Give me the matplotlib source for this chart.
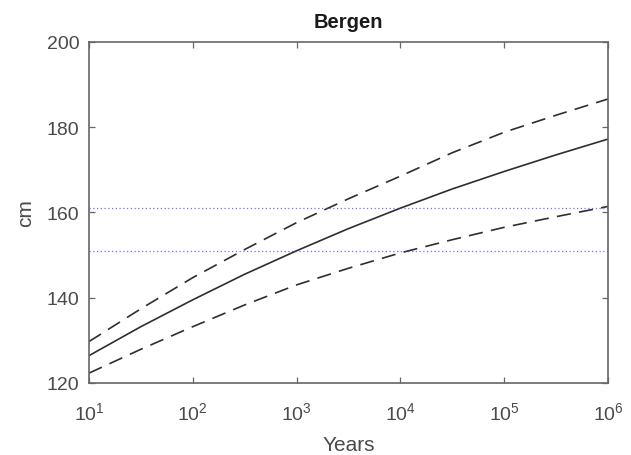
import matplotlib
matplotlib.use("Agg")
import matplotlib.pyplot as plt
import numpy as np

plt.rcParams['font.family'] = ['Liberation Sans', 'DejaVu Sans']
plt.rcParams['mathtext.fontset'] = 'custom'
plt.rcParams['mathtext.rm'] = 'Liberation Sans'

years = [1e1, 10**1.5, 1e2, 10**2.5, 1e3, 10**3.5, 1e4, 10**4.5, 1e5, 10**5.5, 1e6]
central = [126.4, 133.2, 139.5, 145.5, 151.0, 156.2, 161.0, 165.5, 169.6, 173.5, 177.2]
upper = [129.7, 137.4, 144.7, 151.3, 157.6, 163.2, 168.5, 174.0, 178.8, 182.8, 186.6]
lower = [122.3, 127.9, 133.2, 138.3, 143.0, 146.9, 150.5, 153.6, 156.5, 159.0, 161.4]
ref_levels = [151, 161]
xtick_exps = [1, 2, 3, 4, 5, 6]
yticks = [120, 140, 160, 180, 200]

fig = plt.figure(figsize=(6.31, 4.56), dpi=100)
ax = fig.add_axes([0.141, 0.158, 0.8225, 0.748])

txt = '#4a4a4a'
axc = '#666666'
lc = '#2e2e2e'

ax.plot(years, upper, color=lc, lw=1.2, ls=(0, (8.5, 5)))
ax.plot(years, central, color=lc, lw=1.2, ls='-')
ax.plot(years, lower, color=lc, lw=1.2, ls=(0, (8.5, 5)))
for lv in ref_levels:
    ax.axhline(lv, color='#4d4dff', lw=0.9, ls=(0, (1, 2)), alpha=0.8)

ax.set_xscale('log')
ax.set_xlim(1e1, 1e6)
ax.set_ylim(120, 200)
ax.set_xticks([10.0**e for e in xtick_exps])
ax.set_xticklabels([r'$\mathregular{10^{%d}}$' % e for e in xtick_exps])
ax.xaxis.set_minor_locator(matplotlib.ticker.NullLocator())
ax.set_yticks(yticks)
ax.set_yticklabels([str(v) for v in yticks])

ax.tick_params(axis='both', which='major', direction='in', length=4, width=0.9,
               top=True, right=True, colors=axc, labelcolor=txt, labelsize=14)
ax.tick_params(axis='y', pad=7)
ax.tick_params(axis='x', pad=13)
for s in ax.spines.values():
    s.set_color(axc)
    s.set_linewidth(1.2)

ax.set_title('Bergen', fontsize=14.5, fontweight='bold', color='#1a1a1a', pad=11)
ax.set_xlabel('Years', fontsize=15, color=txt, labelpad=9)
ax.set_ylabel('cm', fontsize=15, color=txt, labelpad=8)

fig.savefig('out.png', dpi=100)
